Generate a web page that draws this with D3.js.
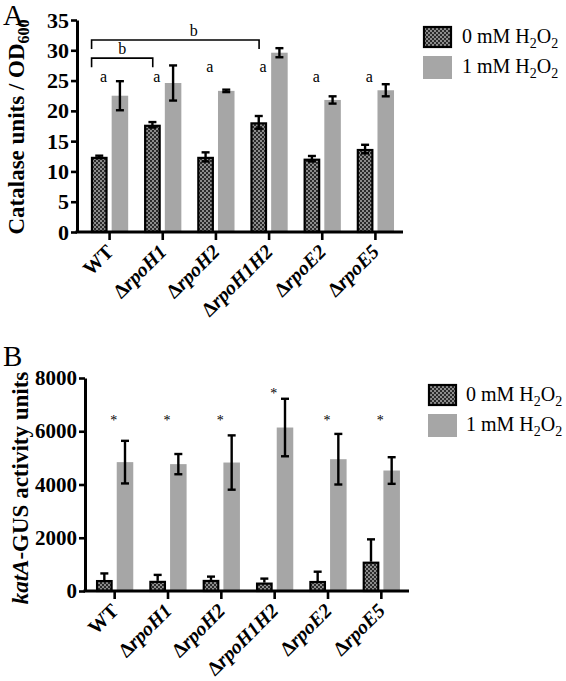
<!DOCTYPE html>
<html>
<head>
<meta charset="utf-8">
<script src="https://cdn.jsdelivr.net/npm/d3@7"></script>
<style>
  html, body { margin: 0; padding: 0; background: #fff; }
  svg { display: block; }
  text { font-family: "Liberation Serif", "Times New Roman", serif; fill: #000; }
</style>
</head>
<body>
<svg id="chart" width="566" height="681"></svg>
<script>
// ---------------- DATA ----------------
const strains = ["WT", "ΔrpoH1", "ΔrpoH2", "ΔrpoH1H2", "ΔrpoE2", "ΔrpoE5"];
const seriesNames = ["0 mM H2O2", "1 mM H2O2"];

// Panel A: Catalase units / OD600
const catalase0 = [12.4, 17.7, 12.4, 18.1, 12.1, 13.7];
const catalase0Err = [0.2, 0.45, 0.75, 1.05, 0.45, 0.7];
const catalase1 = [22.5, 24.6, 23.3, 29.6, 21.8, 23.4];
const catalase1Err = [2.4, 2.9, 0.2, 0.75, 0.6, 1.0];
const catalaseTicks = [0, 5, 10, 15, 20, 25, 30, 35];
const catalaseLetters = ["a", "a", "a", "a", "a", "a"];
const catalaseLetterY = [25.4, 25.4, 27.1, 27.1, 25.4, 25.4];
// significance brackets: from strain, to strain, height, label
const brackets = [
  { from: "WT", to: "ΔrpoH1", y: 28.7, label: "b", labelFrac: 0.5 },
  { from: "WT", to: "ΔrpoH1H2", y: 31.7, label: "b", labelFrac: 0.61 }
];

// Panel B: katA-GUS activity units
const gus0 = [410, 380, 415, 315, 375, 1100];
const gus0Err = [250, 225, 125, 150, 350, 840];
const gus1 = [4840, 4765, 4825, 6140, 4950, 4525];
const gus1Err = [800, 380, 1020, 1080, 950, 500];
const gusTicks = [0, 2000, 4000, 6000, 8000];
const gusStars = [6500, 6500, 6500, 7500, 6500, 6500];

// ---------------- DRAWING ----------------
const svg = d3.select("#chart");
const lightGrey = "#a6a6a6";

// checker pattern for the 0 mM bars
const defs = svg.append("defs");
const pat = defs.append("pattern")
  .attr("id", "checker").attr("patternUnits", "userSpaceOnUse")
  .attr("width", 4).attr("height", 4);
pat.append("rect").attr("width", 4).attr("height", 4).attr("fill", "#2a2a2a");
pat.append("rect").attr("x", 0).attr("y", 0).attr("width", 2).attr("height", 2).attr("fill", "#8c8c8c");
pat.append("rect").attr("x", 2).attr("y", 2).attr("width", 2).attr("height", 2).attr("fill", "#8c8c8c");

function drawPanel(cfg) {
  const g = svg.append("g");
  const x = d3.scaleBand().domain(strains).range(cfg.xRange);
  const inner = d3.scaleBand().domain(seriesNames).range([-18.6, 18.6]).paddingInner(0.2);
  const y = d3.scaleLinear().domain([0, cfg.yMax]).range(cfg.yRange);
  const cx = s => x(s) + x.bandwidth() / 2;

  // bars: 1 mM (grey)
  g.selectAll(".b1").data(strains).join("rect")
    .attr("x", s => cx(s) + inner(seriesNames[1]))
    .attr("width", inner.bandwidth())
    .attr("y", (s, i) => y(cfg.v1[i]))
    .attr("height", (s, i) => y(0) - y(cfg.v1[i]))
    .attr("fill", lightGrey);

  // bars: 0 mM (checker, black outline)
  g.selectAll(".b0").data(strains).join("rect")
    .attr("x", s => cx(s) + inner(seriesNames[0]) + 1)
    .attr("width", inner.bandwidth() - 2)
    .attr("y", (s, i) => y(cfg.v0[i]) + 1)
    .attr("height", (s, i) => Math.max(0, y(0) - y(cfg.v0[i]) - 1))
    .attr("fill", "url(#checker)")
    .attr("stroke", "#000").attr("stroke-width", 2.2);

  // error bars
  function errBars(vals, errs, series, both) {
    const xc = s => cx(s) + inner(series) + inner.bandwidth() / 2;
    const eg = g.append("g").attr("stroke", "#000").attr("stroke-width", 2.4).attr("fill", "none");
    strains.forEach((s, i) => {
      const top = y(vals[i] + errs[i]);
      const bot = both ? y(vals[i] - errs[i]) : y(vals[i]);
      eg.append("line").attr("x1", xc(s)).attr("x2", xc(s)).attr("y1", top).attr("y2", bot);
      eg.append("line").attr("x1", xc(s) - 4).attr("x2", xc(s) + 4).attr("y1", top).attr("y2", top);
      if (both) eg.append("line").attr("x1", xc(s) - 4).attr("x2", xc(s) + 4).attr("y1", bot).attr("y2", bot);
    });
  }
  errBars(cfg.v0, cfg.e0, seriesNames[0], cfg.bothDark);
  errBars(cfg.v1, cfg.e1, seriesNames[1], true);

  // y axis
  const ya = g.append("g").attr("transform", `translate(${cfg.yAxisX},0)`)
    .call(d3.axisLeft(y).tickValues(cfg.ticks).tickFormat(d3.format("d"))
      .tickSize(6).tickSizeOuter(0).tickPadding(2));
  ya.select(".domain").attr("stroke-width", 3);
  ya.selectAll(".tick line").attr("stroke-width", 2.6);
  ya.selectAll(".tick text").attr("font-size", cfg.tickFont).attr("font-weight", "bold")
    .attr("font-family", "Liberation Serif").attr("fill", "#000");

  // x axis
  const xa = g.append("g").attr("transform", `translate(0,${y(0)})`)
    .call(d3.axisBottom(x).tickSize(8).tickSizeOuter(0).tickFormat(""));
  xa.select(".domain").remove();
  xa.append("line").attr("x1", cfg.yAxisX - 1.5).attr("x2", cfg.xRange[1] + 1)
    .attr("y1", 0).attr("y2", 0).attr("stroke", "#000").attr("stroke-width", 3);
  xa.selectAll(".tick line").attr("stroke-width", 2.6);

  // x labels rotated
  const lab = g.append("g");
  strains.forEach(s => {
    const t = lab.append("text")
      .attr("transform", `translate(${cx(s) + 5},${y(0) + 21}) rotate(-45)`)
      .attr("text-anchor", "end").attr("font-size", 20).attr("font-weight", "bold");
    if (s.startsWith("Δ")) {
      t.append("tspan").text("Δ");
      t.append("tspan").attr("font-style", "italic").text(s.slice(1));
    } else {
      t.text(s);
    }
  });

  return { g, x, y, cx, inner };
}

// ---------- Panel A ----------
const A = drawPanel({
  xRange: [83, 402], yRange: [232, 20], yMax: 35, yAxisX: 77,
  v0: catalase0, e0: catalase0Err, v1: catalase1, e1: catalase1Err,
  ticks: catalaseTicks, tickFont: 22, bothDark: true
});

// letters a
A.g.selectAll(".letA").data(strains).join("text")
  .attr("x", s => A.cx(s) - 6)
  .attr("y", (s, i) => A.y(catalaseLetterY[i]) + 4)
  .attr("text-anchor", "middle").attr("font-size", 16)
  .text((s, i) => catalaseLetters[i]);

// brackets
brackets.forEach(b => {
  const x1 = A.cx(b.from) - 18;
  const x2 = A.cx(b.to) - 10;
  const yy = A.y(b.y);
  A.g.append("path")
    .attr("d", `M${x1},${yy + 9}V${yy}H${x2}V${yy + 9}`)
    .attr("fill", "none").attr("stroke", "#000").attr("stroke-width", 1.6);
  A.g.append("text").attr("x", x1 + (x2 - x1) * b.labelFrac).attr("y", yy - 4)
    .attr("text-anchor", "middle").attr("font-size", 16).text(b.label);
});

// panel letter A
svg.append("text").attr("x", 3).attr("y", 25).attr("font-size", 29).text("A");

// y title A
{
  const t = svg.append("text")
    .attr("transform", "translate(24,127) rotate(-90)")
    .attr("text-anchor", "middle").attr("font-size", 23).attr("font-weight", "bold");
  t.append("tspan").text("Catalase units / OD");
  t.append("tspan").attr("font-size", 16).attr("dy", 5).text("600");
}

// ---------- Panel B ----------
const B = drawPanel({
  xRange: [88, 408], yRange: [591, 378], yMax: 8000, yAxisX: 85,
  v0: gus0, e0: gus0Err, v1: gus1, e1: gus1Err,
  ticks: gusTicks, tickFont: 21, bothDark: false
});

B.g.selectAll(".star").data(strains).join("text")
  .attr("x", s => B.cx(s) - 1)
  .attr("y", (s, i) => B.y(gusStars[i]) + 7)
  .attr("text-anchor", "middle").attr("font-size", 14)
  .text("*");

svg.append("text").attr("x", 3).attr("y", 366).attr("font-size", 29).text("B");

{
  const t = svg.append("text")
    .attr("transform", "translate(28,488) rotate(-90)")
    .attr("text-anchor", "middle").attr("font-size", 23).attr("font-weight", "bold");
  t.append("tspan").attr("font-style", "italic").text("katA");
  t.append("tspan").text("-GUS activity units");
}

// ---------- Legends ----------
function legend(x0, yTop, textX) {
  const lg = svg.append("g");
  seriesNames.forEach((name, i) => {
    const yy = yTop + i * 30;
    if (i === 0) {
      lg.append("rect").attr("x", x0 + 1).attr("y", yy + 1).attr("width", 27).attr("height", 20)
        .attr("fill", "url(#checker)").attr("stroke", "#000").attr("stroke-width", 2.2);
    } else {
      lg.append("rect").attr("x", x0).attr("y", yy).attr("width", 29).attr("height", 23)
        .attr("fill", lightGrey);
    }
    const t = lg.append("text").attr("x", textX).attr("y", yy + 17).attr("font-size", 20);
    const lead = name.split(" H2O2")[0];
    t.append("tspan").text(lead + " H");
    t.append("tspan").attr("font-size", 14).attr("dy", 5).text("2");
    t.append("tspan").attr("dy", -5).text("O");
    t.append("tspan").attr("font-size", 14).attr("dy", 5).text("2");
  });
}
legend(423, 26, 462);
legend(428, 384, 466);
</script>
</body>
</html>
